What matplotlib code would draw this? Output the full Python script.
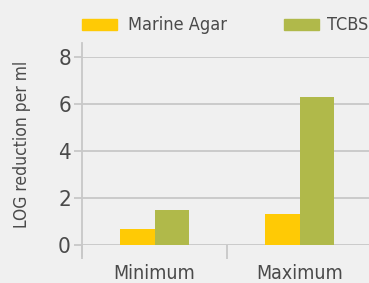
import matplotlib
matplotlib.use("Agg")
import matplotlib.pyplot as plt
from matplotlib.patches import Rectangle
import numpy as np

categories = ["Minimum", "Maximum"]
series_names = ["Marine Agar", "TCBS"]
marine_agar = [0.7, 1.3]
tcbs = [1.5, 6.3]
yticks = [0, 2, 4, 6, 8]

colors = ["#ffca05", "#b0b94a"]
bg = "#f0f0f0"
txt = "#4a4a4a"
grid = "#c8c8c8"

plt.rcParams['font.family'] = ['DejaVu Sans']
plt.rcParams['font.stretch'] = 'condensed'

fig = plt.figure(figsize=(3.69, 2.83), dpi=100, facecolor=bg)
W, H = 369, 283
ax = fig.add_axes([82 / W, 1 - 245 / H, (372 - 82) / W, (245 - 57) / H])
ax.set_facecolor(bg)

x = np.arange(len(categories))
bw = 0.24
ax.bar(x - bw / 2, marine_agar, bw, color=colors[0], zorder=3)
ax.bar(x + bw / 2, tcbs, bw, color=colors[1], zorder=3)

ax.set_xlim(-0.5, 1.5)
ax.set_ylim(0, 8)
ax.set_yticks(yticks)
ax.set_yticklabels([str(v) for v in yticks])
ax.yaxis.grid(True, color=grid, linewidth=1.3, zorder=0)
ax.set_xticks(x)
ax.set_xticklabels(categories)
ax.set_xticks([-0.5, 0.5, 1.5], minor=True)
ax.tick_params(axis='x', which='major', length=0, pad=14, labelsize=14, labelcolor=txt)
ax.tick_params(axis='x', which='minor', length=10, width=1.3, color=grid)
ax.tick_params(axis='y', length=6, width=1.3, color=grid, labelsize=16, labelcolor=txt, pad=2)
for s in ["top", "right", "bottom"]:
    ax.spines[s].set_visible(False)
ax.spines["left"].set_color(grid)
ax.spines["left"].set_linewidth(1.3)
ax.spines["left"].set_bounds(-0.45, 8.6)
ax.set_ylabel("LOG reduction per ml", fontsize=12.5, color=txt)
ax.yaxis.set_label_coords(-(82 - 31) / (372 - 82), (245 - 144) / (245 - 57))

# legend drawn manually
for name, col, px, tx in zip(series_names, colors, [82, 284], [128, 327]):
    fig.patches.append(Rectangle((px / W, 1 - 30 / H), 35 / W, 11 / H,
                                 transform=fig.transFigure, color=col))
    fig.text(tx / W, 1 - 25 / H, name, fontsize=13, color=txt, va="center", ha="left")

fig.savefig("out.png", dpi=100, facecolor=bg)
